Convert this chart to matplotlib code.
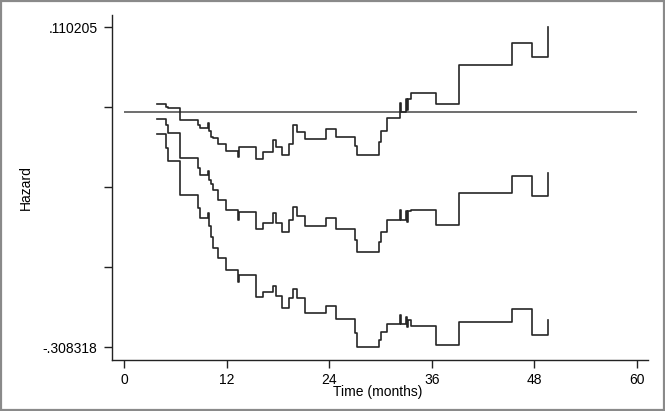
import numpy as np
import matplotlib
matplotlib.use('Agg')
import matplotlib.pyplot as plt

# Event times (months) and the step values of the hazard estimate and its band.
t = [3.81, 4.86, 5.09, 6.56, 8.64, 8.80, 9.81, 9.95, 10.13, 10.42,
     10.98, 11.90, 13.33, 13.45, 15.38, 16.28, 17.39, 17.74, 18.50, 19.32,
     19.73, 20.20, 21.19, 23.59, 24.73, 26.99, 27.28, 29.84, 30.04, 30.77,
     32.26, 32.38, 32.96, 33.08, 33.23, 33.55, 36.47, 39.23, 45.34, 47.75,
     49.55]

upper = [0.0095, 0.0062, 0.0043, -0.0108, -0.0173, -0.0212, -0.0147, -0.0252, -0.0330, -0.0343,
         -0.0422, -0.0507, -0.0592, -0.0461, -0.0618, -0.0526, -0.0369, -0.0461, -0.0565, -0.0422,
         -0.0173, -0.0261, -0.0356, -0.0219, -0.0326, -0.0448, -0.0565, -0.0392, -0.0248, -0.0078,
         0.0115, -0.0007, 0.0167, 0.0023, 0.0167, 0.0249, 0.0098, 0.0612, 0.0903, 0.0712,
         0.110205]

hazard = [-0.0095, -0.0173, -0.0282, -0.0611, -0.0736, -0.0827, -0.0775, -0.0892, -0.0945, -0.1023,
          -0.1154, -0.1285, -0.1416, -0.1307, -0.1537, -0.1451, -0.1328, -0.1451, -0.1569, -0.1416,
          -0.1242, -0.1363, -0.1494, -0.1383, -0.1529, -0.1677, -0.1830, -0.1699, -0.1569, -0.1422,
          -0.1285, -0.1422, -0.1294, -0.1438, -0.1294, -0.1285, -0.1481, -0.1066, -0.0836, -0.1102,
          -0.0805]

lower = [-0.0291, -0.0478, -0.0640, -0.1095, -0.1263, -0.1393, -0.1324, -0.1494, -0.1634, -0.1786,
         -0.1917, -0.2070, -0.2223, -0.2135, -0.2429, -0.2357, -0.2279, -0.2410, -0.2567, -0.2436,
         -0.2322, -0.2440, -0.2636, -0.2540, -0.2708, -0.2894, -0.308318, -0.2985, -0.2877, -0.2776,
         -0.2658, -0.2776, -0.2680, -0.2811, -0.2724, -0.2802, -0.3057, -0.2750, -0.2580, -0.2920,
         -0.2724]

xticks = [0, 12, 24, 36, 48, 60]
ymin, ymax = -0.308318, 0.110205

plt.rcParams['font.family'] = ['Liberation Sans', 'DejaVu Sans']

fig = plt.figure(figsize=(6.65, 4.11), dpi=100)
fig.patch.set_facecolor('white')
ax = fig.add_axes([0.1684, 0.1241, 0.806, 0.8394])

# Reference line at zero.
ax.hlines(0, xticks[0], xticks[-1], color='#6e6e6e', lw=1.4, zorder=1)

for y in (upper, hazard, lower):
    ax.plot(t, y, drawstyle='steps-post', color='#262626', lw=1.2, zorder=2)

ax.set_xlim(-1.46, 61.3)
ax.set_ylim(-0.32467, 0.12655)

ax.set_xticks(xticks)
ax.set_xticklabels([str(x) for x in xticks])
yt = np.linspace(ymin, ymax, 5)
ax.set_yticks(yt)
ax.set_yticklabels(['-.308318', '', '', '', '.110205'])

for side in ('top', 'right'):
    ax.spines[side].set_visible(False)
for side in ('left', 'bottom'):
    ax.spines[side].set_color('#222222')
    ax.spines[side].set_linewidth(1.0)
ax.tick_params(direction='out', length=5.5, width=1.0, color='#222222',
               labelsize=10, pad=4)
ax.tick_params(axis='y', pad=5)

ax.set_xlabel('Time (months)', fontsize=10)
ax.xaxis.set_label_coords(0.496, -0.073)
ax.set_ylabel('Hazard', fontsize=10)
ax.yaxis.set_label_coords(-0.147, 0.5)

# Grey frame around the whole graph.
frame = plt.Rectangle((0.0015, 0.0025), 0.997, 0.995, transform=fig.transFigure,
                      fill=False, edgecolor='#8a8a8a', lw=1.6)
fig.patches.append(frame)

fig.savefig('out.png', dpi=100)
